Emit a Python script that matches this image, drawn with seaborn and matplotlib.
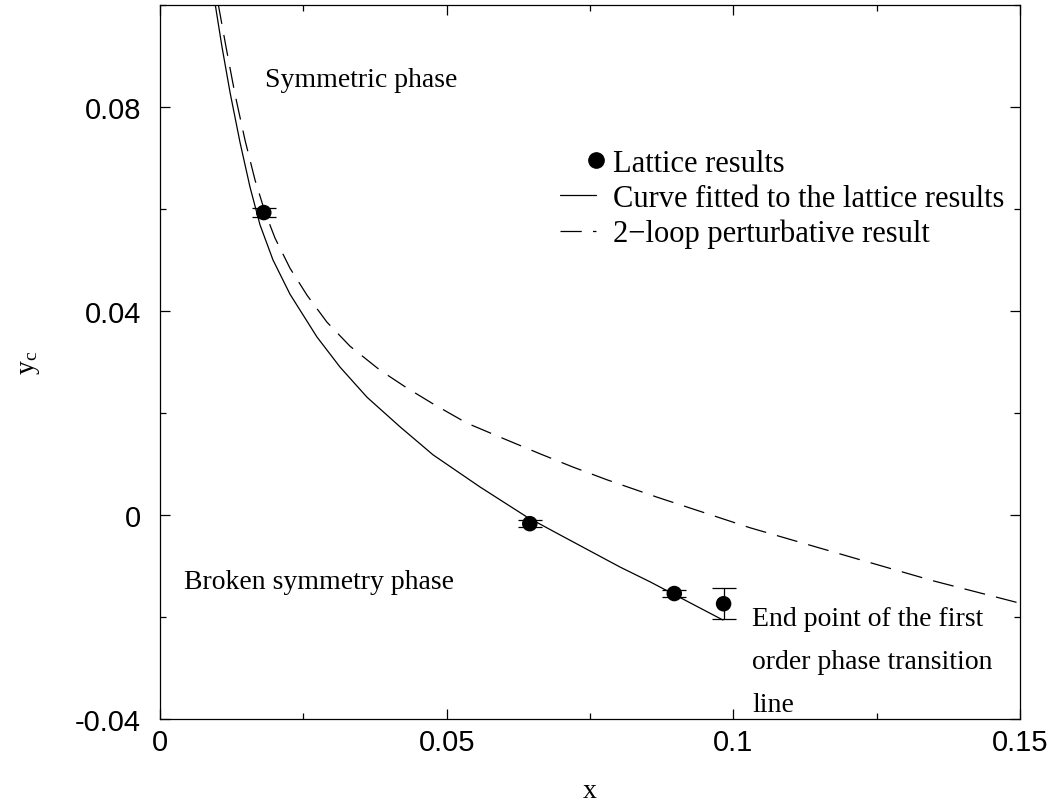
import matplotlib
matplotlib.use("Agg")
import matplotlib.pyplot as plt
from matplotlib.lines import Line2D
from matplotlib.ticker import MultipleLocator
import seaborn as sns
import pandas as pd

# ---- data ----
lattice_x = [0.0181, 0.0645, 0.0897, 0.0983]
lattice_y = [0.0593, -0.0017, -0.0154, -0.0174]
lattice_yerr = [0.0008, 0.0007, 0.0007, 0.0030]

fit_x = [0.00959, 0.01081, 0.01221, 0.01395, 0.01570, 0.01744, 0.01971, 0.02267,
         0.02738, 0.03140, 0.03610, 0.04186, 0.04762, 0.05581, 0.06401, 0.06977,
         0.08023, 0.08547, 0.09820]
fit_y = [0.1004, 0.0918, 0.0829, 0.0731, 0.0643, 0.0569, 0.0500, 0.0433,
         0.0349, 0.0290, 0.0231, 0.0173, 0.0118, 0.0055, -0.0004, -0.0039,
         -0.0102, -0.0131, -0.0206]

pert_x = [0.01012, 0.01151, 0.01308, 0.01483, 0.01657, 0.01831, 0.02006, 0.02267,
          0.02564, 0.02913, 0.03314, 0.03837, 0.04308, 0.04762, 0.05355, 0.06052,
          0.06628, 0.07203, 0.07797, 0.08669, 0.10291, 0.12035, 0.13483, 0.15000]
pert_y = [0.1004, 0.0918, 0.0825, 0.0735, 0.0657, 0.0594, 0.0543, 0.0484,
          0.0431, 0.0378, 0.0331, 0.0284, 0.0249, 0.0218, 0.0180, 0.0147,
          0.0120, 0.0094, 0.0069, 0.0035, -0.0025, -0.0082, -0.0129, -0.0173]

x_ticks = [0, 0.05, 0.1, 0.15]
x_ticklabels = ["0", "0.05", "0.1", "0.15"]
y_ticks = [-0.04, 0, 0.04, 0.08]
y_ticklabels = ["-0.04", "0", "0.04", "0.08"]

legend_labels = ["Lattice results", "Curve fitted to the lattice results",
                 "2\u2212loop perturbative result"]

# ---- style ----
sns.set_theme(style="ticks")
plt.rcParams["font.family"] = ["Liberation Serif", "DejaVu Serif"]
plt.rcParams["mathtext.fontset"] = "stix"
plt.rcParams["text.color"] = "black"
plt.rcParams["axes.labelcolor"] = "black"
plt.rcParams["xtick.color"] = "black"
plt.rcParams["ytick.color"] = "black"

fig = plt.figure(figsize=(10.53, 8.04), dpi=100)
ax = fig.add_axes([160 / 1053, 1 - 720 / 804, 860 / 1053, 714 / 804])

fit_df = pd.DataFrame({"x": fit_x, "y": fit_y})
pert_df = pd.DataFrame({"x": pert_x, "y": pert_y})
lat_df = pd.DataFrame({"x": lattice_x, "y": lattice_y})

dash = (0, (17, 9))
sns.lineplot(data=fit_df, x="x", y="y", sort=False, estimator=None, ax=ax,
             color="black", lw=0.9)
sns.lineplot(data=pert_df, x="x", y="y", sort=False, estimator=None, ax=ax,
             color="black", lw=0.9, linestyle=dash)
ax.errorbar(lattice_x, lattice_y, yerr=lattice_yerr, fmt="none", ecolor="black",
            elinewidth=0.9, capsize=8.5, capthick=0.9, zorder=3)
sns.scatterplot(data=lat_df, x="x", y="y", ax=ax, color="black", s=125,
                edgecolor="none", zorder=4)

ax.set_xlim(0, 0.15)
ax.set_ylim(-0.04, 0.1)
ax.set_xticks(x_ticks)
ax.set_xticklabels(x_ticklabels)
ax.set_yticks(y_ticks)
ax.set_yticklabels(y_ticklabels)
ax.xaxis.set_minor_locator(MultipleLocator(0.025))
ax.yaxis.set_minor_locator(MultipleLocator(0.02))
ax.tick_params(which="both", direction="in", top=True, right=True,
               colors="black", width=0.9)
ax.tick_params(which="major", length=7, labelsize=21)
ax.tick_params(which="minor", length=4)
ax.tick_params(axis="x", which="major", pad=6.5)
ax.tick_params(axis="y", which="major", pad=13.5)
for lab in ax.get_xticklabels() + ax.get_yticklabels():
    lab.set_fontfamily(["Liberation Sans", "DejaVu Sans"])
for sp in ax.spines.values():
    sp.set_visible(True)
    sp.set_color("black")
    sp.set_linewidth(0.9)

ax.set_xlabel("x", fontsize=20, labelpad=16, color="black")
ax.set_ylabel(r"$\mathregular{y_c}$", fontsize=20, labelpad=24, color="black")

# annotations
ax.text(0.0183, 0.0853, "Symmetric phase", fontsize=20, va="center", ha="left",
        color="black")
ax.text(0.0042, -0.0130, "Broken symmetry phase", fontsize=20, va="center",
        ha="left", color="black")
ax.text(0.1033, -0.0178, "End point of the first\norder phase transition\nline",
        fontsize=20, va="top", ha="left", linespacing=1.94, color="black")

handles = [
    Line2D([], [], color="black", marker="o", ls="none", ms=11),
    Line2D([], [], color="black", lw=0.9),
    Line2D([], [], color="black", lw=0.9, linestyle=dash),
]
leg = ax.legend(handles, legend_labels, loc="upper left",
                bbox_to_anchor=(0.465, 0.799), frameon=False, fontsize=22,
                handlelength=1.18, handletextpad=0.55, labelspacing=0.2,
                borderpad=0, borderaxespad=0, numpoints=1, labelcolor="black")
leg.legend_handles[0].set_markevery([2])

fig.savefig("out.png", dpi=100)
